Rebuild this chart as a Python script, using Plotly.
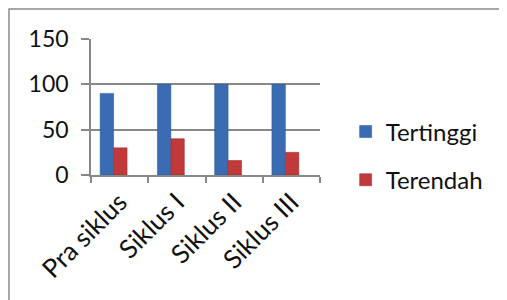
import plotly.graph_objects as go

categories = ["Pra siklus", "Siklus I", "Siklus II", "Siklus III"]
tertinggi = [90, 100, 100, 100]
terendah = [30, 40, 16, 25]
y_ticks = [0, 50, 100, 150]

FONT = "Lato"
blue = "#3A6CB4"
red = "#C2393A"

fig = go.Figure()
fig.add_trace(go.Bar(
    x=categories, y=tertinggi, name="Tertinggi",
    marker=dict(color=blue, line=dict(color="#2B538E", width=0.5)),
    width=0.235, offset=-0.34, legendgroup="a",
))
fig.add_trace(go.Bar(
    x=categories, y=terendah, name="Terendah",
    marker=dict(color=red, line=dict(color="#8E2A2A", width=0.5)),
    width=0.235, offset=-0.105, legendgroup="b",
))

L, T, PW, PH = 83, 31, 229, 136

fig.update_layout(
    width=507, height=300,
    margin=dict(l=L, r=507 - L - PW, t=T, b=300 - T - PH, autoexpand=False),
    paper_bgcolor="white", plot_bgcolor="white",
    barmode="overlay",
    font=dict(family=FONT, size=22, color="#111"),
    showlegend=True,
    legend=dict(
        x=1.112, y=0.14, xanchor="left", yanchor="middle",
        font=dict(family=FONT, size=24, color="#111"),
        tracegroupgap=14, itemwidth=30,
        bgcolor="rgba(0,0,0,0)",
    ),
    xaxis=dict(
        type="category", tickangle=-45, tickson="boundaries",
        ticks="outside", ticklen=6, tickcolor="#888", tickwidth=1.5,
        showline=True, linecolor="#888", linewidth=1.5,
        showgrid=False, tickfont=dict(family=FONT, size=26),
        range=[-0.5, 3.5], automargin=False,
    ),
    yaxis=dict(
        range=[0, 150], tickvals=y_ticks, ticks="outside", ticklen=8,
        tickcolor="#888", tickwidth=1.5,
        showline=True, linecolor="#888", linewidth=1.5,
        showgrid=True, gridcolor="#888", gridwidth=1.5,
        zeroline=False, tickfont=dict(family=FONT, size=23),
        ticklabelstandoff=8, automargin=False,
    ),
    shapes=[dict(
        type="rect", xref="paper", yref="paper",
        x0=-(L - 1) / PW, x1=(600 - L) / PW,
        y0=-(400) / PH, y1=1 + (T - 1) / PH,
        line=dict(color="#8a8a8a", width=1.5), layer="below",
    )],
)

fig.write_html("out.html")
